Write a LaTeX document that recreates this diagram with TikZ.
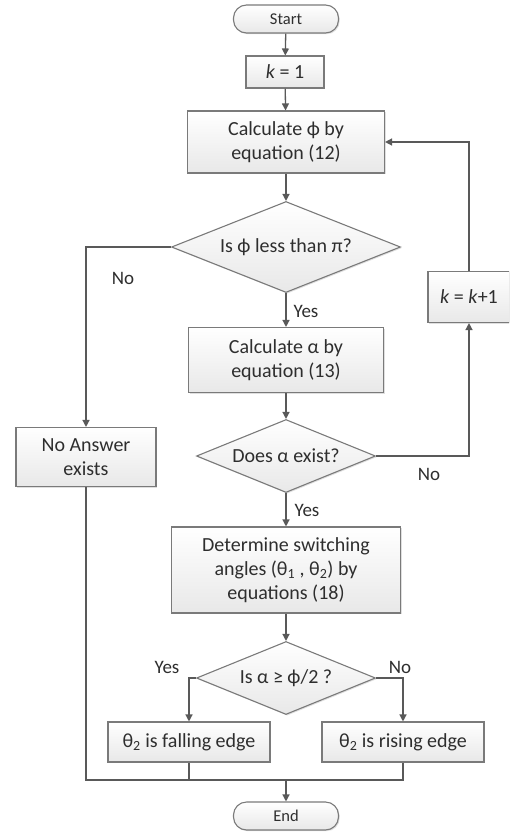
\documentclass[tikz,border=0pt]{standalone}
\usepackage{fontspec}
\setmainfont{Carlito}
\usetikzlibrary{shapes.geometric,arrows.meta,shadows}
\definecolor{lncol}{HTML}{595959}
\definecolor{txtcol}{HTML}{2E2E2E}
\definecolor{brd}{HTML}{7A7A7A}
\newcommand{\ph}{ϕ}
\tikzset{
  base/.style={draw=brd, line width=1.1pt, top color=white, bottom color=gray!18,
    text=txtcol, align=center, inner sep=0pt,
    font=\fontsize{20}{24}\selectfont,
    drop shadow={shadow xshift=1.2pt, shadow yshift=-1.2pt, opacity=0.25, fill=gray}},
  procbox/.style={base, rectangle},
  termbox/.style={base, rectangle, rounded corners=13pt, minimum width=105pt, minimum height=28pt, font=\fontsize{16.5}{20}\selectfont},
  decbox/.style={base, diamond, aspect=2.5},
  conn/.style={draw=lncol, line width=1.3pt, -{Triangle[length=7pt,width=7pt]}},
  plainconn/.style={draw=lncol, line width=1.3pt},
  lbl/.style={text=txtcol, font=\fontsize{19}{22}\selectfont, inner sep=0pt}
}
\begin{document}
\begin{tikzpicture}[x=1pt,y=-1pt]
\useasboundingbox (0,0) rectangle (509,833);
\begin{scope}
\clip (0,0) rectangle (509,833);
\node[termbox] (start) at (286,19) {Start};
\node[procbox, minimum width=78pt, minimum height=32pt] (k1) at (285,72) {\textit{k} = 1};
\node[procbox, minimum width=197pt, minimum height=62pt] (calcphi) at (286,142) {Calculate \ph{} by\\equation (12)};
\node[decbox, minimum width=229pt, minimum height=91pt] (dec1) at (286,247) {Is \ph{} less than π?};
\node[procbox, minimum width=195pt, minimum height=65pt] (calca) at (286,360) {Calculate α by\\equation (13)};
\node[procbox, minimum width=82pt, minimum height=51pt] (kk) at (469,297) {\textit{k} = \textit{k}+1};
\node[decbox, minimum width=179pt, minimum height=73pt] (dec2) at (286,456) {Does α exist?};
\node[procbox, minimum width=140pt, minimum height=59pt] (noans) at (86,457) {No Answer\\exists};
\node[procbox, minimum width=229pt, minimum height=86pt] (det) at (286,570) {Determine switching\\angles (θ\textsubscript{1} , θ\textsubscript{2}) by\\equations (18)};
\node[decbox, minimum width=179pt, minimum height=73pt] (dec3) at (286,678) {Is α ≥ \ph/2 ?};
\node[procbox, minimum width=162pt, minimum height=40pt] (fall) at (189,742) {θ\textsubscript{2} is falling edge};
\node[procbox, minimum width=162pt, minimum height=40pt] (rise) at (403,742) {θ\textsubscript{2} is rising edge};
\node[termbox] (end) at (286,816) {End};
\coordinate (m) at (286,780);

\draw[conn] (start) -- (k1);
\draw[conn] (k1) -- (calcphi);
\draw[conn] (calcphi) -- (dec1);
\draw[conn] (dec1.west) -| (noans.north);
\draw[conn] (dec1.south) -- (calca.north);
\draw[conn] (calca) -- (dec2);
\draw[conn] (dec2.east) -| (kk.south);
\draw[conn] (kk.north) |- (calcphi.east);
\draw[conn] (dec2.south) -- (det.north);
\draw[conn] (det) -- (dec3);
\draw[conn] (dec3.west) -| (fall.north);
\draw[conn] (dec3.east) -| (rise.north);
\draw[plainconn] (noans.south) |- (m);
\draw[plainconn] (fall.south) |- (m);
\draw[plainconn] (rise.south) |- (m);
\draw[conn] (m) -- (end.north);

\node[lbl] (l1) at (123,278) {No};
\node[lbl] (l2) at (306,311) {Yes};
\node[lbl] (l3) at (429,474) {No};
\node[lbl] (l4) at (307,510) {Yes};
\node[lbl] (l5) at (167,667) {Yes};
\node[lbl] (l6) at (400,667) {No};
\end{scope}
\end{tikzpicture}
\end{document}
